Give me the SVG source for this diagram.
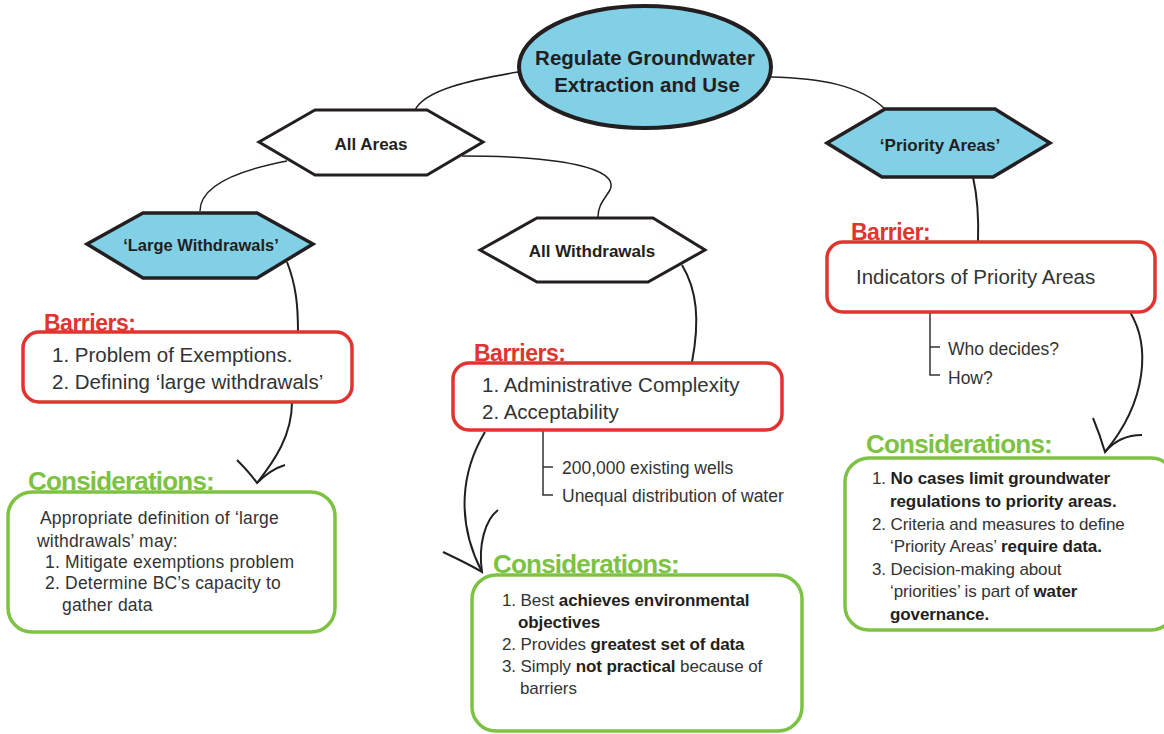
<svg xmlns="http://www.w3.org/2000/svg" width="1164" height="734" viewBox="0 0 1164 734">
<style>
.bg{fill:#ffffff}
.hexw{fill:#ffffff;stroke:#231f20;stroke-width:3;stroke-linejoin:miter}
.hexb{fill:#82d0e6;stroke:#231f20;stroke-width:3.5;stroke-linejoin:miter}
.ell{fill:#82d0e6;stroke:#231f20;stroke-width:4}
.red{fill:#ffffff;stroke:#e0342f;stroke-width:3.5}
.grn{fill:#ffffff;stroke:#7dc243;stroke-width:3.5}
.con{fill:none;stroke:#231f20;stroke-width:2}
.thin{fill:none;stroke:#231f20;stroke-width:1.5}
.brk{fill:none;stroke:#333333;stroke-width:1.5}
.t{font-family:"Liberation Sans",Arial,sans-serif;fill:#333333}
.hb{font-family:"Liberation Sans",Arial,sans-serif;font-weight:bold;fill:#231f20;text-anchor:middle}
.rh{font-family:"Liberation Sans",Arial,sans-serif;font-weight:bold;fill:#e0342f;font-size:23px;letter-spacing:-0.5px}
.gh{font-family:"Liberation Sans",Arial,sans-serif;font-weight:bold;fill:#7dc243;font-size:26px;letter-spacing:-0.8px}
.bt{font-size:20.5px}
.st{font-size:17.5px}
.ct{font-size:17px;letter-spacing:-0.1px}
.cl{font-size:17.5px;letter-spacing:0.2px}
.b{font-weight:bold;fill:#231f20}
</style>
<rect class="bg" x="0" y="0" width="1164" height="734"/>

<g id="connectors">
<path class="thin" d="M518,72 C470,80 425,90 415,110"/>
<path class="thin" d="M770,77 C820,78 860,85 885,109"/>
<path class="thin" d="M287,161 C240,170 200,185 200,211"/>
<path class="thin" d="M462,156 C560,156 620,168 610,190 C604,200 598,205 598,217"/>
<path class="con" d="M287,262 C296,285 298,305 298,332"/>
<path class="con" d="M292,402 C292,435 275,460 257,483"/>
<path class="con" d="M237,460 C245,468 252,476 257,483 C265,475 275,468 285,465"/>
<path class="con" d="M682,265 C697,290 700,320 692,362"/>
<path class="con" d="M485,432 C462,470 455,520 482,572"/>
<path class="con" d="M443,552 C460,560 472,566 482,572 C478,545 485,520 498,510"/>
<path class="con" d="M973,177 C977,195 979,215 978,242"/>
<path class="con" d="M1130,312 C1150,345 1148,400 1105,452"/>
<path class="con" d="M1093,418 C1098,430 1102,442 1105,452 C1115,440 1128,435 1142,435"/>
<path class="brk" d="M543,431 V495 H553 M543,467 H553"/>
<path class="brk" d="M930,313 V375 H940 M930,347 H940"/>
</g>

<g id="root">
<ellipse class="ell" cx="645" cy="67" rx="126" ry="61"/>
<text class="hb" font-size="20.5" x="645" y="65">Regulate Groundwater</text>
<text class="hb" font-size="20.5" x="647" y="92">Extraction and Use</text>
</g>

<g id="all-areas">
<polygon class="hexw" points="259,142 315,110 427,110 483,142 427,175 315,175"/>
<text class="hb" font-size="17" x="371" y="150">All Areas</text>
</g>

<g id="priority-areas">
<polygon class="hexb" points="827,143 885,109 995,109 1050,143 993,177 882,177"/>
<text class="hb" font-size="17" x="940" y="151">‘Priority Areas’</text>
</g>

<g id="large-withdrawals">
<polygon class="hexb" points="87,244 143,213 257,213 313,244 257,278 143,278"/>
<text class="hb" font-size="16.5" x="201" y="251">‘Large Withdrawals’</text>
</g>

<g id="all-withdrawals">
<polygon class="hexw" points="480,250 537,218 653,218 705,250 648,282 537,282"/>
<text class="hb" font-size="17" x="592" y="257">All Withdrawals</text>
</g>

<g id="barriers-left">
<text class="rh" x="44" y="331">Barriers:</text>
<rect class="red" x="23" y="332" width="329" height="70" rx="16"/>
<text class="t bt" x="52" y="362">1. Problem of Exemptions.</text>
<text class="t bt" x="52" y="389">2. Defining ‘large withdrawals’</text>
</g>

<g id="barriers-middle">
<text class="rh" x="474" y="361">Barriers:</text>
<rect class="red" x="453" y="363" width="329" height="67" rx="16"/>
<text class="t bt" x="482" y="392">1. Administrative Complexity</text>
<text class="t bt" x="482" y="419">2. Acceptability</text>
<text class="t st" x="562" y="474">200,000 existing wells</text>
<text class="t st" x="562" y="502">Unequal distribution of water</text>
</g>

<g id="barrier-right">
<text class="rh" x="851" y="240">Barrier:</text>
<rect class="red" x="827" y="242" width="328" height="70" rx="16"/>
<text class="t bt" x="856" y="284">Indicators of Priority Areas</text>
<text class="t st" x="948" y="355">Who decides?</text>
<text class="t st" x="948" y="384">How?</text>
</g>

<g id="considerations-left">
<text class="gh" x="28" y="490">Considerations:</text>
<rect class="grn" x="8" y="492" width="327" height="140" rx="24"/>
<text class="t cl" x="40" y="524">Appropriate definition of ‘large</text>
<text class="t cl" x="37" y="547">withdrawals’ may:</text>
<text class="t cl" x="45" y="568">1. Mitigate exemptions problem</text>
<text class="t cl" x="45" y="589">2. Determine BC’s capacity to</text>
<text class="t cl" x="62" y="611">gather data</text>
</g>

<g id="considerations-middle">
<text class="gh" x="493" y="573">Considerations:</text>
<rect class="grn" x="472" y="575" width="330" height="156" rx="24"/>
<text class="t ct" x="502" y="606">1. Best <tspan class="b">achieves environmental</tspan></text>
<text class="t ct b" x="518" y="628">objectives</text>
<text class="t ct" x="502" y="650">2. Provides <tspan class="b">greatest set of data</tspan></text>
<text class="t ct" x="502" y="672">3. Simply <tspan class="b">not practical</tspan> because of</text>
<text class="t ct" x="520" y="694">barriers</text>
</g>

<g id="considerations-right">
<text class="gh" x="866" y="453">Considerations:</text>
<rect class="grn" x="845" y="458" width="330" height="172" rx="24"/>
<text class="t ct" x="872" y="484">1. <tspan class="b">No cases limit groundwater</tspan></text>
<text class="t ct b" x="890" y="507">regulations to priority areas.</text>
<text class="t ct" x="872" y="530">2. Criteria and measures to define</text>
<text class="t ct" x="890" y="552">‘Priority Areas’ <tspan class="b">require data.</tspan></text>
<text class="t ct" x="872" y="575">3. Decision-making about</text>
<text class="t ct" x="890" y="597">‘priorities’ is part of <tspan class="b">water</tspan></text>
<text class="t ct b" x="890" y="620">governance.</text>
</g>
</svg>
